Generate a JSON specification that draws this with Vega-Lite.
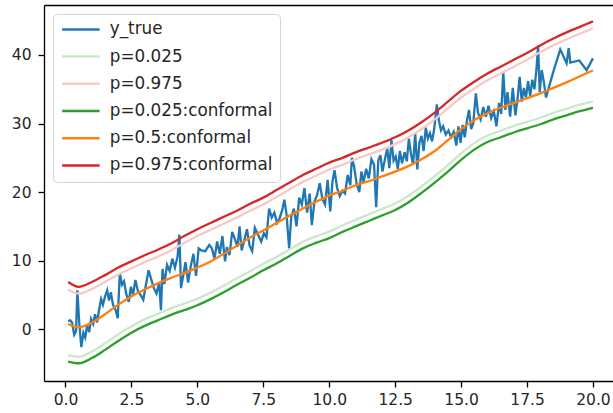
{
  "$schema": "https://vega.github.io/schema/vega-lite/v6.json",
  "width": 569,
  "height": 376,
  "autosize": {"type": "none"},
  "padding": {"left": 44, "top": 5, "right": 0, "bottom": 32},
  "config": {
    "font": "DejaVu Sans",
    "view": {"stroke": null},
    "axis": {"grid": false, "domainColor": "#000000", "domainWidth": 1.3, "tickColor": "#000000", "tickWidth": 1.3, "tickSize": 6, "labelFontSize": 15.5, "labelColor": "#262626", "labelFont": "DejaVu Sans"},
    "legend": {"orient": "top-left", "offset": 9, "padding": 7, "strokeColor": "#d4d4d4", "fillColor": "#ffffff", "cornerRadius": 4, "symbolType": "M-1,0H5", "symbolSize": 156, "symbolStrokeWidth": 2.5, "labelFontSize": 16.8, "labelColor": "#262626", "labelOffset": 33, "labelLimit": 400, "rowPadding": 9.2, "labelFont": "DejaVu Sans"}
  },
  "datasets": {
    "truth": [
      {"x":0.10,"y":1.2},{"x":0.18,"y":1.3},{"x":0.25,"y":1.0},{"x":0.33,"y":-0.8},{"x":0.40,"y":-0.3},{"x":0.45,"y":5.7},{"x":0.52,"y":1.0},{"x":0.60,"y":-2.6},{"x":0.68,"y":-0.5},{"x":0.75,"y":-1.2},{"x":0.82,"y":0.6},{"x":0.90,"y":-0.4},{"x":0.97,"y":1.5},{"x":1.05,"y":0.8},{"x":1.12,"y":2.2},{"x":1.20,"y":1.0},{"x":1.28,"y":3.0},{"x":1.35,"y":4.4},{"x":1.42,"y":3.6},{"x":1.50,"y":4.8},{"x":1.58,"y":5.7},{"x":1.65,"y":4.2},{"x":1.72,"y":5.4},{"x":1.80,"y":3.6},{"x":1.90,"y":2.8},{"x":1.98,"y":1.6},{"x":2.06,"y":8.2},{"x":2.14,"y":6.5},{"x":2.22,"y":7.0},{"x":2.30,"y":5.2},{"x":2.40,"y":4.0},{"x":2.48,"y":6.2},{"x":2.56,"y":5.0},{"x":2.65,"y":7.2},{"x":2.75,"y":5.5},{"x":2.85,"y":5.0},{"x":2.95,"y":4.3},{"x":3.05,"y":6.5},{"x":3.15,"y":8.6},{"x":3.25,"y":7.3},{"x":3.35,"y":6.0},{"x":3.45,"y":5.2},{"x":3.55,"y":6.8},{"x":3.62,"y":2.8},{"x":3.68,"y":8.8},{"x":3.75,"y":6.6},{"x":3.85,"y":9.4},{"x":3.95,"y":8.5},{"x":4.05,"y":10.3},{"x":4.15,"y":9.0},{"x":4.25,"y":10.6},{"x":4.32,"y":13.8},{"x":4.38,"y":6.0},{"x":4.45,"y":7.5},{"x":4.55,"y":9.8},{"x":4.65,"y":6.8},{"x":4.75,"y":9.2},{"x":4.85,"y":11.0},{"x":4.95,"y":7.8},{"x":5.05,"y":11.8},{"x":5.15,"y":11.5},{"x":5.30,"y":11.4},{"x":5.45,"y":12.3},{"x":5.55,"y":11.8},{"x":5.65,"y":10.3},{"x":5.75,"y":12.8},{"x":5.85,"y":11.0},{"x":5.95,"y":13.6},{"x":6.05,"y":9.9},{"x":6.12,"y":12.0},{"x":6.22,"y":10.8},{"x":6.32,"y":14.2},{"x":6.42,"y":13.2},{"x":6.52,"y":12.0},{"x":6.60,"y":15.0},{"x":6.68,"y":11.5},{"x":6.78,"y":13.0},{"x":6.88,"y":14.6},{"x":6.98,"y":12.2},{"x":7.08,"y":11.4},{"x":7.18,"y":14.8},{"x":7.30,"y":13.8},{"x":7.42,"y":12.8},{"x":7.52,"y":14.0},{"x":7.62,"y":13.4},{"x":7.72,"y":17.6},{"x":7.82,"y":16.3},{"x":7.92,"y":17.0},{"x":8.02,"y":15.5},{"x":8.12,"y":16.2},{"x":8.22,"y":17.4},{"x":8.30,"y":18.9},{"x":8.38,"y":16.8},{"x":8.48,"y":11.8},{"x":8.56,"y":16.4},{"x":8.66,"y":17.6},{"x":8.76,"y":15.0},{"x":8.86,"y":19.2},{"x":8.96,"y":18.2},{"x":9.06,"y":20.6},{"x":9.16,"y":17.0},{"x":9.26,"y":19.8},{"x":9.34,"y":15.2},{"x":9.44,"y":18.6},{"x":9.54,"y":19.6},{"x":9.64,"y":21.3},{"x":9.74,"y":19.0},{"x":9.84,"y":18.2},{"x":9.94,"y":21.8},{"x":10.04,"y":17.2},{"x":10.12,"y":21.5},{"x":10.20,"y":23.2},{"x":10.30,"y":20.6},{"x":10.40,"y":19.4},{"x":10.50,"y":20.2},{"x":10.60,"y":19.8},{"x":10.70,"y":22.5},{"x":10.80,"y":21.0},{"x":10.86,"y":25.0},{"x":10.94,"y":23.8},{"x":11.04,"y":21.2},{"x":11.14,"y":20.0},{"x":11.22,"y":23.0},{"x":11.30,"y":21.4},{"x":11.40,"y":23.4},{"x":11.50,"y":22.0},{"x":11.60,"y":24.8},{"x":11.70,"y":24.0},{"x":11.78,"y":17.8},{"x":11.86,"y":24.6},{"x":11.94,"y":25.4},{"x":12.02,"y":23.0},{"x":12.10,"y":24.6},{"x":12.20,"y":26.4},{"x":12.28,"y":23.5},{"x":12.36,"y":27.6},{"x":12.44,"y":24.6},{"x":12.52,"y":25.2},{"x":12.60,"y":23.4},{"x":12.68,"y":26.0},{"x":12.76,"y":24.2},{"x":12.86,"y":25.8},{"x":12.94,"y":24.5},{"x":13.02,"y":27.8},{"x":13.10,"y":25.6},{"x":13.18,"y":24.0},{"x":13.26,"y":28.6},{"x":13.34,"y":23.3},{"x":13.42,"y":27.2},{"x":13.50,"y":28.2},{"x":13.58,"y":26.0},{"x":13.66,"y":29.4},{"x":13.74,"y":27.8},{"x":13.82,"y":28.6},{"x":13.90,"y":27.4},{"x":13.98,"y":29.2},{"x":14.08,"y":32.8},{"x":14.16,"y":30.4},{"x":14.24,"y":29.0},{"x":14.32,"y":29.6},{"x":14.42,"y":28.4},{"x":14.52,"y":29.0},{"x":14.62,"y":28.0},{"x":14.72,"y":28.8},{"x":14.82,"y":26.8},{"x":14.90,"y":29.6},{"x":14.98,"y":27.2},{"x":15.06,"y":29.8},{"x":15.14,"y":28.0},{"x":15.22,"y":30.4},{"x":15.30,"y":32.0},{"x":15.38,"y":29.2},{"x":15.46,"y":30.0},{"x":15.56,"y":34.4},{"x":15.64,"y":31.6},{"x":15.74,"y":30.6},{"x":15.84,"y":32.4},{"x":15.94,"y":31.0},{"x":16.04,"y":32.6},{"x":16.14,"y":30.8},{"x":16.24,"y":31.8},{"x":16.34,"y":29.6},{"x":16.44,"y":33.0},{"x":16.52,"y":31.4},{"x":16.60,"y":37.6},{"x":16.68,"y":32.0},{"x":16.76,"y":34.6},{"x":16.86,"y":31.0},{"x":16.96,"y":35.2},{"x":17.06,"y":31.2},{"x":17.14,"y":33.6},{"x":17.22,"y":36.8},{"x":17.30,"y":33.2},{"x":17.38,"y":35.2},{"x":17.46,"y":33.8},{"x":17.54,"y":36.2},{"x":17.62,"y":34.0},{"x":17.70,"y":36.4},{"x":17.78,"y":35.0},{"x":17.86,"y":38.0},{"x":17.92,"y":41.4},{"x":17.98,"y":34.6},{"x":18.06,"y":37.8},{"x":18.14,"y":36.0},{"x":18.22,"y":33.8},{"x":18.50,"y":37.6},{"x":18.76,"y":40.8},{"x":19.00,"y":38.8},{"x":19.08,"y":41.0},{"x":19.14,"y":38.9},{"x":19.48,"y":39.2},{"x":19.76,"y":37.8},{"x":20.00,"y":39.5}
    ],
    "quant": [
      {"s":"p=0.5:conformal","x":0.1,"y":0.77},{"s":"p=0.5:conformal","x":0.5,"y":0.3},{"s":"p=0.5:conformal","x":1.0,"y":1.0},{"s":"p=0.5:conformal","x":1.5,"y":2.2},{"s":"p=0.5:conformal","x":2.0,"y":3.6},{"s":"p=0.5:conformal","x":2.5,"y":4.8},{"s":"p=0.5:conformal","x":3.0,"y":5.8},{"s":"p=0.5:conformal","x":3.5,"y":6.7},{"s":"p=0.5:conformal","x":4.0,"y":7.5},{"s":"p=0.5:conformal","x":4.5,"y":8.2},{"s":"p=0.5:conformal","x":5.0,"y":9.0},{"s":"p=0.5:conformal","x":5.5,"y":9.9},{"s":"p=0.5:conformal","x":6.0,"y":11.0},{"s":"p=0.5:conformal","x":6.5,"y":12.2},{"s":"p=0.5:conformal","x":7.0,"y":13.4},{"s":"p=0.5:conformal","x":7.5,"y":14.4},{"s":"p=0.5:conformal","x":8.0,"y":15.5},{"s":"p=0.5:conformal","x":8.5,"y":16.6},{"s":"p=0.5:conformal","x":9.0,"y":17.6},{"s":"p=0.5:conformal","x":9.5,"y":18.6},{"s":"p=0.5:conformal","x":10.0,"y":19.5},{"s":"p=0.5:conformal","x":10.5,"y":20.2},{"s":"p=0.5:conformal","x":11.0,"y":21.0},{"s":"p=0.5:conformal","x":11.5,"y":21.6},{"s":"p=0.5:conformal","x":12.0,"y":22.3},{"s":"p=0.5:conformal","x":12.5,"y":23.0},{"s":"p=0.5:conformal","x":13.0,"y":23.8},{"s":"p=0.5:conformal","x":13.5,"y":24.8},{"s":"p=0.5:conformal","x":14.0,"y":26.0},{"s":"p=0.5:conformal","x":14.5,"y":27.6},{"s":"p=0.5:conformal","x":15.0,"y":29.2},{"s":"p=0.5:conformal","x":15.5,"y":30.5},{"s":"p=0.5:conformal","x":16.0,"y":31.5},{"s":"p=0.5:conformal","x":16.5,"y":32.3},{"s":"p=0.5:conformal","x":17.0,"y":33.0},{"s":"p=0.5:conformal","x":17.5,"y":33.7},{"s":"p=0.5:conformal","x":18.0,"y":34.4},{"s":"p=0.5:conformal","x":18.5,"y":35.2},{"s":"p=0.5:conformal","x":19.0,"y":36.0},{"s":"p=0.5:conformal","x":19.5,"y":36.9},{"s":"p=0.5:conformal","x":20.0,"y":37.75},

      {"s":"p=0.975:conformal","x":0.1,"y":6.9},{"s":"p=0.975:conformal","x":0.5,"y":6.2},{"s":"p=0.975:conformal","x":1.0,"y":6.9},{"s":"p=0.975:conformal","x":1.5,"y":7.9},{"s":"p=0.975:conformal","x":2.0,"y":9.0},{"s":"p=0.975:conformal","x":2.5,"y":9.9},{"s":"p=0.975:conformal","x":3.0,"y":10.8},{"s":"p=0.975:conformal","x":3.5,"y":11.6},{"s":"p=0.975:conformal","x":4.0,"y":12.5},{"s":"p=0.975:conformal","x":4.5,"y":13.6},{"s":"p=0.975:conformal","x":5.0,"y":14.6},{"s":"p=0.975:conformal","x":5.5,"y":15.5},{"s":"p=0.975:conformal","x":6.0,"y":16.4},{"s":"p=0.975:conformal","x":6.5,"y":17.3},{"s":"p=0.975:conformal","x":7.0,"y":18.3},{"s":"p=0.975:conformal","x":7.5,"y":19.2},{"s":"p=0.975:conformal","x":8.0,"y":20.3},{"s":"p=0.975:conformal","x":8.5,"y":21.4},{"s":"p=0.975:conformal","x":9.0,"y":22.5},{"s":"p=0.975:conformal","x":9.5,"y":23.4},{"s":"p=0.975:conformal","x":10.0,"y":24.3},{"s":"p=0.975:conformal","x":10.5,"y":25.0},{"s":"p=0.975:conformal","x":11.0,"y":25.8},{"s":"p=0.975:conformal","x":11.5,"y":26.5},{"s":"p=0.975:conformal","x":12.0,"y":27.2},{"s":"p=0.975:conformal","x":12.5,"y":28.0},{"s":"p=0.975:conformal","x":13.0,"y":29.0},{"s":"p=0.975:conformal","x":13.5,"y":30.2},{"s":"p=0.975:conformal","x":14.0,"y":31.6},{"s":"p=0.975:conformal","x":14.5,"y":33.2},{"s":"p=0.975:conformal","x":15.0,"y":34.8},{"s":"p=0.975:conformal","x":15.5,"y":36.1},{"s":"p=0.975:conformal","x":16.0,"y":37.3},{"s":"p=0.975:conformal","x":16.5,"y":38.3},{"s":"p=0.975:conformal","x":17.0,"y":39.3},{"s":"p=0.975:conformal","x":17.5,"y":40.3},{"s":"p=0.975:conformal","x":18.0,"y":41.4},{"s":"p=0.975:conformal","x":18.5,"y":42.4},{"s":"p=0.975:conformal","x":19.0,"y":43.3},{"s":"p=0.975:conformal","x":19.5,"y":44.1},{"s":"p=0.975:conformal","x":20.0,"y":44.9},

      {"s":"p=0.975","x":0.1,"y":5.8},{"s":"p=0.975","x":0.5,"y":5.2},{"s":"p=0.975","x":1.0,"y":5.9},{"s":"p=0.975","x":1.5,"y":6.9},{"s":"p=0.975","x":2.0,"y":8.0},{"s":"p=0.975","x":2.5,"y":8.9},{"s":"p=0.975","x":3.0,"y":9.8},{"s":"p=0.975","x":3.5,"y":10.6},{"s":"p=0.975","x":4.0,"y":11.5},{"s":"p=0.975","x":4.5,"y":12.6},{"s":"p=0.975","x":5.0,"y":13.6},{"s":"p=0.975","x":5.5,"y":14.5},{"s":"p=0.975","x":6.0,"y":15.4},{"s":"p=0.975","x":6.5,"y":16.3},{"s":"p=0.975","x":7.0,"y":17.3},{"s":"p=0.975","x":7.5,"y":18.2},{"s":"p=0.975","x":8.0,"y":19.3},{"s":"p=0.975","x":8.5,"y":20.4},{"s":"p=0.975","x":9.0,"y":21.5},{"s":"p=0.975","x":9.5,"y":22.4},{"s":"p=0.975","x":10.0,"y":23.3},{"s":"p=0.975","x":10.5,"y":24.0},{"s":"p=0.975","x":11.0,"y":24.8},{"s":"p=0.975","x":11.5,"y":25.5},{"s":"p=0.975","x":12.0,"y":26.2},{"s":"p=0.975","x":12.5,"y":27.0},{"s":"p=0.975","x":13.0,"y":28.0},{"s":"p=0.975","x":13.5,"y":29.2},{"s":"p=0.975","x":14.0,"y":30.6},{"s":"p=0.975","x":14.5,"y":32.2},{"s":"p=0.975","x":15.0,"y":33.8},{"s":"p=0.975","x":15.5,"y":35.1},{"s":"p=0.975","x":16.0,"y":36.3},{"s":"p=0.975","x":16.5,"y":37.3},{"s":"p=0.975","x":17.0,"y":38.3},{"s":"p=0.975","x":17.5,"y":39.3},{"s":"p=0.975","x":18.0,"y":40.4},{"s":"p=0.975","x":18.5,"y":41.4},{"s":"p=0.975","x":19.0,"y":42.3},{"s":"p=0.975","x":19.5,"y":43.1},{"s":"p=0.975","x":20.0,"y":43.9},

      {"s":"p=0.025:conformal","x":0.1,"y":-4.7},{"s":"p=0.025:conformal","x":0.5,"y":-4.95},{"s":"p=0.025:conformal","x":1.0,"y":-4.2},{"s":"p=0.025:conformal","x":1.5,"y":-3.0},{"s":"p=0.025:conformal","x":2.0,"y":-1.7},{"s":"p=0.025:conformal","x":2.5,"y":-0.5},{"s":"p=0.025:conformal","x":3.0,"y":0.5},{"s":"p=0.025:conformal","x":3.5,"y":1.3},{"s":"p=0.025:conformal","x":4.0,"y":2.1},{"s":"p=0.025:conformal","x":4.5,"y":2.8},{"s":"p=0.025:conformal","x":5.0,"y":3.5},{"s":"p=0.025:conformal","x":5.5,"y":4.4},{"s":"p=0.025:conformal","x":6.0,"y":5.4},{"s":"p=0.025:conformal","x":6.5,"y":6.5},{"s":"p=0.025:conformal","x":7.0,"y":7.5},{"s":"p=0.025:conformal","x":7.5,"y":8.6},{"s":"p=0.025:conformal","x":8.0,"y":9.6},{"s":"p=0.025:conformal","x":8.5,"y":10.7},{"s":"p=0.025:conformal","x":9.0,"y":11.8},{"s":"p=0.025:conformal","x":9.5,"y":12.6},{"s":"p=0.025:conformal","x":10.0,"y":13.3},{"s":"p=0.025:conformal","x":10.5,"y":14.2},{"s":"p=0.025:conformal","x":11.0,"y":15.0},{"s":"p=0.025:conformal","x":11.5,"y":15.8},{"s":"p=0.025:conformal","x":12.0,"y":16.6},{"s":"p=0.025:conformal","x":12.5,"y":17.4},{"s":"p=0.025:conformal","x":13.0,"y":18.5},{"s":"p=0.025:conformal","x":13.5,"y":19.9},{"s":"p=0.025:conformal","x":14.0,"y":21.4},{"s":"p=0.025:conformal","x":14.5,"y":23.0},{"s":"p=0.025:conformal","x":15.0,"y":24.7},{"s":"p=0.025:conformal","x":15.5,"y":26.2},{"s":"p=0.025:conformal","x":16.0,"y":27.3},{"s":"p=0.025:conformal","x":16.5,"y":28.0},{"s":"p=0.025:conformal","x":17.0,"y":28.7},{"s":"p=0.025:conformal","x":17.5,"y":29.3},{"s":"p=0.025:conformal","x":18.0,"y":29.9},{"s":"p=0.025:conformal","x":18.5,"y":30.6},{"s":"p=0.025:conformal","x":19.0,"y":31.2},{"s":"p=0.025:conformal","x":19.5,"y":31.8},{"s":"p=0.025:conformal","x":20.0,"y":32.3},

      {"s":"p=0.025","x":0.1,"y":-3.75},{"s":"p=0.025","x":0.5,"y":-4.0},{"s":"p=0.025","x":1.0,"y":-3.25},{"s":"p=0.025","x":1.5,"y":-2.05},{"s":"p=0.025","x":2.0,"y":-0.75},{"s":"p=0.025","x":2.5,"y":0.45},{"s":"p=0.025","x":3.0,"y":1.45},{"s":"p=0.025","x":3.5,"y":2.25},{"s":"p=0.025","x":4.0,"y":3.05},{"s":"p=0.025","x":4.5,"y":3.75},{"s":"p=0.025","x":5.0,"y":4.45},{"s":"p=0.025","x":5.5,"y":5.35},{"s":"p=0.025","x":6.0,"y":6.35},{"s":"p=0.025","x":6.5,"y":7.45},{"s":"p=0.025","x":7.0,"y":8.45},{"s":"p=0.025","x":7.5,"y":9.55},{"s":"p=0.025","x":8.0,"y":10.55},{"s":"p=0.025","x":8.5,"y":11.65},{"s":"p=0.025","x":9.0,"y":12.75},{"s":"p=0.025","x":9.5,"y":13.55},{"s":"p=0.025","x":10.0,"y":14.25},{"s":"p=0.025","x":10.5,"y":15.15},{"s":"p=0.025","x":11.0,"y":15.95},{"s":"p=0.025","x":11.5,"y":16.75},{"s":"p=0.025","x":12.0,"y":17.55},{"s":"p=0.025","x":12.5,"y":18.35},{"s":"p=0.025","x":13.0,"y":19.45},{"s":"p=0.025","x":13.5,"y":20.85},{"s":"p=0.025","x":14.0,"y":22.35},{"s":"p=0.025","x":14.5,"y":23.95},{"s":"p=0.025","x":15.0,"y":25.65},{"s":"p=0.025","x":15.5,"y":27.15},{"s":"p=0.025","x":16.0,"y":28.25},{"s":"p=0.025","x":16.5,"y":28.95},{"s":"p=0.025","x":17.0,"y":29.65},{"s":"p=0.025","x":17.5,"y":30.25},{"s":"p=0.025","x":18.0,"y":30.85},{"s":"p=0.025","x":18.5,"y":31.55},{"s":"p=0.025","x":19.0,"y":32.15},{"s":"p=0.025","x":19.5,"y":32.75},{"s":"p=0.025","x":20.0,"y":33.25}
    ]
  },
  "layer": [
    {
      "data": {"name": "truth"},
      "mark": {"type": "line", "strokeWidth": 2.3, "color": "#1f77b4"},
      "encoding": {
        "x": {"field": "x", "type": "quantitative", "scale": {"domain": [-0.815, 20.76], "nice": false, "zero": false}, "axis": {"values": [0, 2.5, 5, 7.5, 10, 12.5, 15, 17.5, 20], "format": ".1f", "title": null, "labelPadding": 5}},
        "y": {"field": "y", "type": "quantitative", "scale": {"domain": [-7.54, 47.29], "nice": false, "zero": false}, "axis": {"values": [0, 10, 20, 30, 40], "format": "d", "title": null, "labelPadding": 7}},
        "color": {"datum": "y_true", "type": "nominal", "title": null, "scale": {"domain": ["y_true", "p=0.025", "p=0.975", "p=0.025:conformal", "p=0.5:conformal", "p=0.975:conformal"], "range": ["#1f77b4", "#cae8ca", "#f5c9c9", "#2ca02c", "#ff7f0e", "#d62728"]}}
      }
    },
    {
      "data": {"name": "quant"},
      "mark": {"type": "line", "interpolate": "monotone", "strokeWidth": 2.3},
      "encoding": {
        "x": {"field": "x", "type": "quantitative", "axis": {"orient": "top", "labels": false, "ticks": false, "title": null, "domain": true}},
        "y": {"field": "y", "type": "quantitative"},
        "color": {"field": "s", "type": "nominal", "title": null}
      }
    }
  ],
  "resolve": {"axis": {"x": "independent"}}
}
